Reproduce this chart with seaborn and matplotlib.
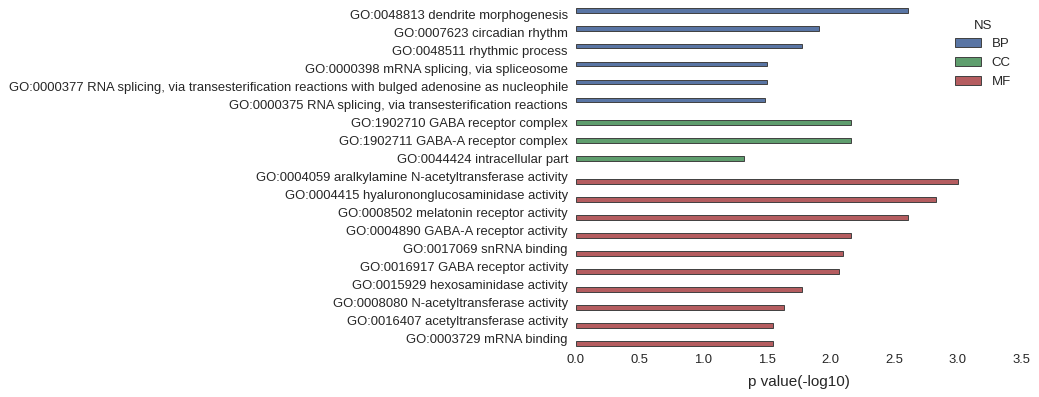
import matplotlib
matplotlib.use("Agg")
import matplotlib.pyplot as plt
import seaborn as sns
import pandas as pd

terms = [
    "GO:0048813 dendrite morphogenesis",
    "GO:0007623 circadian rhythm",
    "GO:0048511 rhythmic process",
    "GO:0000398 mRNA splicing, via spliceosome",
    "GO:0000377 RNA splicing, via transesterification reactions with bulged adenosine as nucleophile",
    "GO:0000375 RNA splicing, via transesterification reactions",
    "GO:1902710 GABA receptor complex",
    "GO:1902711 GABA-A receptor complex",
    "GO:0044424 intracellular part",
    "GO:0004059 aralkylamine N-acetyltransferase activity",
    "GO:0004415 hyalurononglucosaminidase activity",
    "GO:0008502 melatonin receptor activity",
    "GO:0004890 GABA-A receptor activity",
    "GO:0017069 snRNA binding",
    "GO:0016917 GABA receptor activity",
    "GO:0015929 hexosaminidase activity",
    "GO:0008080 N-acetyltransferase activity",
    "GO:0016407 acetyltransferase activity",
    "GO:0003729 mRNA binding",
]
namespaces = ["BP"] * 6 + ["CC"] * 3 + ["MF"] * 10
pvalues = [2.61, 1.91, 1.78, 1.50, 1.50, 1.49,
           2.16, 2.16, 1.32,
           3.00, 2.83, 2.61, 2.16, 2.10, 2.07, 1.78, 1.64, 1.55, 1.55]
ns_order = ["BP", "CC", "MF"]
colors = ["#4C72B0", "#55A868", "#C44E52"]

df = pd.DataFrame({"term": terms, "NS": namespaces, "p": pvalues})

sns.set_style("white")
plt.rcParams["font.family"] = ["Liberation Sans", "DejaVu Sans"]

fig, ax = plt.subplots(figsize=(10.39, 3.97), dpi=100)
sns.barplot(data=df, x="p", y="term", hue="NS", hue_order=ns_order,
            palette=colors, dodge=True, saturation=0.75,
            edgecolor=".25", linewidth=0.7, ax=ax)
ax.set_xlim(0, 3.5)
ax.set_xticks([0, 0.5, 1.0, 1.5, 2.0, 2.5, 3.0, 3.5])
ax.set_xlabel("p value(-log10)", fontsize=11, labelpad=6)
ax.set_ylabel("")
ax.tick_params(axis="y", labelsize=9.4, length=0, pad=5.5)
ax.tick_params(axis="x", labelsize=9.4, length=0, pad=5)
sns.despine(left=True, bottom=True)
leg = ax.legend(title="NS", loc="upper right", frameon=False, fontsize=9.5,
                title_fontsize=9.5, bbox_to_anchor=(1.003, 0.995))
plt.subplots_adjust(left=0.554, right=0.983, top=0.985, bottom=0.125)
plt.savefig("out.png", dpi=100)
